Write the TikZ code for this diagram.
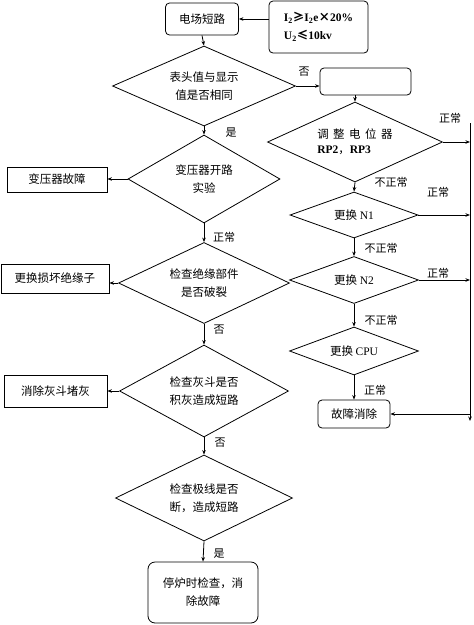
\documentclass[tikz,border=0pt]{standalone}
\usepackage{fontspec}
\setmainfont{Liberation Serif}
\newfontfamily\cjk{Noto Sans CJK SC}
\usetikzlibrary{shapes.geometric,arrows.meta}
\begin{document}
\begin{tikzpicture}[x=1pt,y=-1pt,
  every node/.style={font=\cjk\fontsize{11.5}{18}\selectfont, inner sep=0pt},
  rbox/.style={draw, rounded corners=4pt, line width=0.8pt, align=center},
  sbox/.style={draw, line width=0.8pt, align=center},
  dia/.style={draw, diamond, line width=0.8pt, align=center},
  arr/.style={line width=0.8pt, -{Stealth[length=4.5pt,width=3.5pt]}},
  ln/.style={line width=0.8pt},
  lbl/.style={font=\cjk\fontsize{11}{13}\selectfont},
]
\useasboundingbox (0,0) rectangle (474,625);

% top
\node[rbox, minimum width=73pt, minimum height=32pt] (dc) at (202,19) {电场短路};
\node[rbox, minimum width=99pt, minimum height=52pt, align=left, font=\cjk\fontsize{11.5}{18}\selectfont\bfseries] (cond) at (318.5,27)
  {{\rmfamily\bfseries I\textsubscript{2}}≥{\rmfamily\bfseries I\textsubscript{2}e}×{\rmfamily\bfseries 20\%}\\{\rmfamily\bfseries U\textsubscript{2}}≤{\rmfamily\bfseries 10kv}};

% left column
\node[dia, shape aspect=2.3, minimum width=183pt, minimum height=80pt] (d1) at (204,86) {表头值与显示\\值是否相同};
\node[dia, shape aspect=1.7, minimum width=152pt, minimum height=88pt] (d2l) at (204,179) {变压器开路\\实验};
\node[dia, shape aspect=2.1, minimum width=171pt, minimum height=81pt] (d3l) at (204,283) {检查绝缘部件\\是否破裂};
\node[dia, shape aspect=1.84, minimum width=169pt, minimum height=92pt] (d4l) at (204,391) {检查灰斗是否\\积灰造成短路};
\node[dia, shape aspect=2.06, minimum width=177pt, minimum height=86pt] (d5l) at (204,498) {检查极线是否\\断，造成短路};
\node[rbox, rounded corners=7pt, minimum width=110pt, minimum height=61pt] (stop) at (203,592.5) {停炉时检查，消\\除故障};

\node[sbox, minimum width=100pt, minimum height=25pt] (trans) at (57,179.5) {变压器故障};
\node[sbox, minimum width=108pt, minimum height=29pt] (insul) at (55,278.5) {更换损坏绝缘子};
\node[sbox, minimum width=103pt, minimum height=32pt] (ash) at (55.5,391) {消除灰斗堵灰};

% right column
\node[rbox, minimum width=91pt, minimum height=27pt] (empty) at (365.5,81.5) {};
\node[dia, shape aspect=2.2, minimum width=175pt, minimum height=80pt, align=left] (d2) at (355,142)
  {调\hspace{4.5pt}整\hspace{4.5pt}电\hspace{4.5pt}位\hspace{4.5pt}器\\[-3pt]{\rmfamily\bfseries RP2}，{\rmfamily\bfseries RP3}};
\node[dia, shape aspect=2.8, minimum width=128pt, minimum height=46pt] (d3) at (354,215) {更换 {\rmfamily N1}};
\node[dia, shape aspect=2.8, minimum width=129pt, minimum height=47pt] (d4) at (354,280) {更换 {\rmfamily N2}};
\node[dia, shape aspect=2.8, minimum width=129pt, minimum height=48pt] (d5) at (354,351) {更换 {\rmfamily CPU}};
\node[rbox, minimum width=72pt, minimum height=28pt] (fix) at (354,414) {故障消除};

\coordinate (vtop) at (470,123);
\coordinate (vbot) at (470,421);

% connectors
\draw[arr] (cond.west |- dc.east) -- (dc.east);
\draw[arr] (dc.south) -- (d1.north);
\draw[arr] (d1.south) -- (d2l.north);
\draw[arr] (d2l.south) -- (d3l.north);
\draw[arr] (d3l.south) -- (d4l.north);
\draw[arr] (d4l.south) -- (d5l.north);
\draw[arr] (d5l.south) -- (stop.north);
\draw[arr] (d2l.west) -- (d2l.west -| trans.east);
\draw[arr] (d3l.west) -- (d3l.west -| insul.east);
\draw[arr] (d4l.west) -- (d4l.west -| ash.east);

\draw[arr] (d1.east) -- (d1.east -| empty.west);
\draw[arr] (d2.north |- empty.south) -- (d2.north);
\draw[arr] (d2.south) -- (d3.north);
\draw[arr] (d3.south) -- (d4.north);
\draw[arr] (d4.south) -- (d5.north);
\draw[arr] (d5.south) -- (fix.north);

\draw[arr] (d2.east) -- (d2.east -| vtop);
\draw[arr] (d3.east) -- (d3.east -| vtop);
\draw[arr] (d4.east) -- (d4.east -| vtop);
\draw[arr] (vtop) -- (vbot);
\draw[arr] (fix.east -| vbot) -- (fix.east);

% labels
\node[lbl] at (304,72) {否};
\node[lbl] at (231,133) {是};
\node[lbl] at (224,237) {正常};
\node[lbl] at (219,330) {否};
\node[lbl] at (220,443) {否};
\node[lbl] at (219,554) {是};
\node[lbl] at (450,118) {正常};
\node[lbl] at (391,182) {不正常};
\node[lbl] at (438,192) {正常};
\node[lbl] at (381,248) {不正常};
\node[lbl] at (438,273) {正常};
\node[lbl] at (381,320) {不正常};
\node[lbl] at (375,390) {正常};
\end{tikzpicture}
\end{document}
